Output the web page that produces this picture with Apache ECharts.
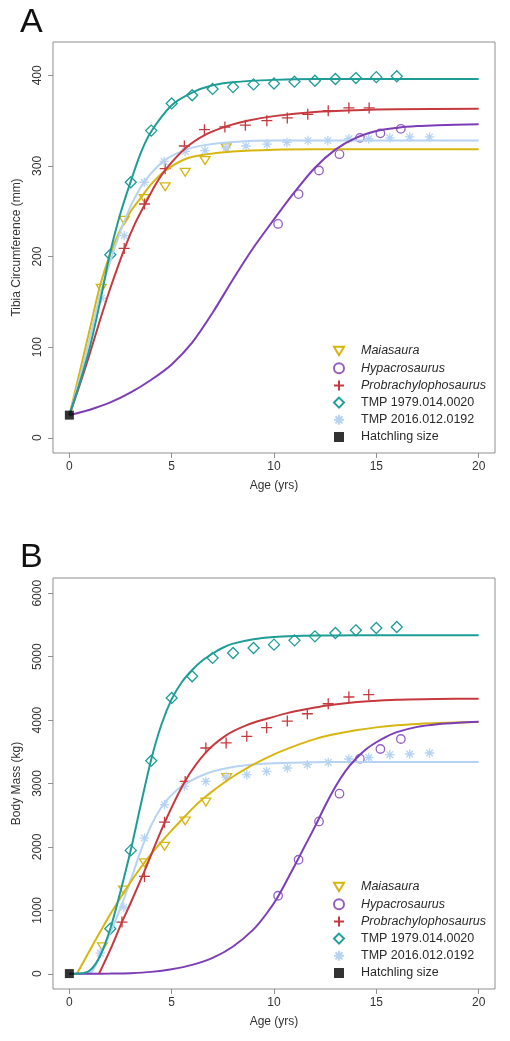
<!DOCTYPE html>
<html>
<head>
<meta charset="utf-8">
<script src="https://cdn.jsdelivr.net/npm/echarts@6/dist/echarts.min.js"></script>
<style>
html,body{margin:0;padding:0;background:#fff;}
#chart{width:510px;height:1041px;}
</style>
</head>
<body>
<div id="chart"></div>
<script>
// ---------- Tick labels ----------
const xTicks = [0, 5, 10, 15, 20];
const yTicksA = [0, 100, 200, 300, 400];
const yTicksB = [0, 1000, 2000, 3000, 4000, 5000, 6000];

// ---------- Panel A observations (Tibia circumference, mm) ----------
const maiaA_age = [1.56, 2.68, 3.66, 4.68, 5.66, 6.63, 7.66];
const maiaA_val = [165, 240, 264, 277, 293, 306, 320];
const hypaA_age = [10.2, 11.2, 12.2, 13.2, 14.2, 15.2, 16.2];
const hypaA_val = [236, 269, 295, 313, 331, 336, 341];
const probA_age = [2.68, 3.67, 4.68, 5.62, 6.6, 7.6, 8.6, 9.65, 10.65, 11.65, 12.65, 13.66, 14.65];
const probA_val = [209, 258, 297, 322, 340, 343, 345, 350, 353, 357, 361, 364, 364];
const t79A_age = [2, 3, 4, 5, 6, 7, 8, 9, 10, 11, 12, 13, 14, 15, 16];
const t79A_val = [202, 282, 339, 369, 378, 385, 387, 390, 391, 393, 394, 396, 397, 398, 399];
const t16A_age = [1.56, 2.68, 3.66, 4.63, 5.66, 6.63, 7.66, 8.63, 9.66, 10.63, 11.66, 12.63, 13.66, 14.63, 15.66, 16.63, 17.6];
const t16A_val = [154, 223, 282, 305, 316, 317, 320, 322, 324, 326, 328, 328, 330, 330, 331, 332, 332];
const hatchA = [0, 25];

// ---------- Panel A fitted curves ----------
const fitMaiaA_age = [0, 0.5, 1, 1.5, 2, 2.5, 3, 3.5, 4, 4.7, 5.7, 6.6, 8, 10, 12, 20];
const fitMaiaA_val = [25, 72, 120, 168, 203, 230, 250, 265, 280, 295, 308, 312.5, 316, 318, 318.5, 318.5];
const fitHypaA_age = [0, 1, 2, 3, 4, 5, 6, 7, 8, 9, 10, 11, 12, 13, 14, 15, 16, 17, 18, 20];
const fitHypaA_val = [25, 31, 39, 50, 64, 81, 105, 138, 175, 210, 241, 271, 298, 318, 331, 338.5, 342, 344, 345, 346];
const fitProbA_age = [0, 0.5, 1, 1.5, 2, 2.7, 3.2, 3.7, 4.2, 4.7, 5.7, 6.7, 7.7, 8.7, 10, 12, 14, 16, 20];
const fitProbA_val = [25, 58, 93, 130, 165, 209, 236, 258, 279, 296, 320, 335, 344, 350, 355, 359.5, 361.5, 362.5, 363];
const fitT79A_age = [0, 0.5, 1, 1.5, 2, 2.5, 3, 3.5, 4, 5, 6, 7, 8, 10, 12, 20];
const fitT79A_val = [25, 60, 100, 150, 205, 248, 283, 315, 338, 367, 381, 389, 392.5, 395, 396, 396];
const fitT16A_age = [0, 0.5, 1, 1.5, 2, 2.5, 3, 3.5, 4, 4.7, 5.7, 6.6, 8, 10, 20];
const fitT16A_val = [25, 65, 110, 158, 195, 228, 256, 277, 292, 307, 318, 323, 326.5, 328, 328];

// ---------- Panel B observations (Body mass, kg) ----------
const maiaB_age = [1.62, 2.65, 3.67, 4.65, 5.66, 6.67, 7.69];
const maiaB_val = [425, 1320, 1750, 2010, 2410, 2708, 3096];
const hypaB_age = [10.2, 11.2, 12.2, 13.2, 14.2, 15.2, 16.2];
const hypaB_val = [1230, 1798, 2402, 2839, 3391, 3544, 3702];
const probB_age = [2.57, 3.67, 4.65, 5.66, 6.67, 7.66, 8.67, 9.64, 10.65, 11.63, 12.65, 13.66, 14.63];
const probB_val = [815, 1535, 2390, 3033, 3560, 3639, 3743, 3880, 3985, 4100, 4257, 4364, 4401];
const t79B_age = [2, 3, 4, 5, 6, 7, 8, 9, 10, 11, 12, 13, 14, 15, 16];
const t79B_val = [710, 1945, 3360, 4349, 4690, 4980, 5058, 5137, 5189, 5257, 5320, 5373, 5415, 5452, 5468];
const t16B_age = [1.51, 2.66, 3.67, 4.65, 5.62, 6.67, 7.66, 8.67, 9.64, 10.65, 11.63, 12.65, 13.66, 14.63, 15.66, 16.63, 17.6];
const t16B_val = [326, 1050, 2140, 2666, 2954, 3033, 3102, 3139, 3191, 3244, 3297, 3333, 3386, 3410, 3454, 3465, 3481];
const hatchB = [0, 3];

// ---------- Panel B fitted curves ----------
const fitMaiaB_age = [0.37, 1, 1.5, 2, 2.5, 3, 3.5, 4, 4.5, 5, 5.5, 6, 6.5, 7, 7.5, 8, 9, 10, 11, 12, 13, 14, 15, 16, 17, 18, 20];
const fitMaiaB_val = [0, 370, 660, 940, 1200, 1450, 1680, 1890, 2080, 2260, 2430, 2600, 2750, 2880, 3000, 3110, 3300, 3460, 3590, 3700, 3780, 3840, 3885, 3918, 3940, 3955, 3968];
const fitHypaB_age = [0, 1, 2, 3, 4, 5, 6, 7, 8, 9, 9.64, 10.2, 11, 11.5, 12, 12.5, 13, 13.5, 14, 14.5, 15, 15.5, 16, 17, 18, 19, 20];
const fitHypaB_val = [0, 0.5, 3, 10, 30, 72, 140, 250, 430, 700, 950, 1220, 1700, 2010, 2320, 2650, 2950, 3200, 3390, 3540, 3650, 3740, 3810, 3893, 3935, 3958, 3972];
const fitProbB_age = [1.45, 2, 2.57, 3, 3.67, 4.65, 5.66, 6.67, 7.66, 8.67, 9.64, 10.65, 11.63, 12.6, 13.6, 14.6, 16, 18, 20];
const fitProbB_val = [0, 380, 815, 1120, 1620, 2380, 3040, 3490, 3760, 3920, 4020, 4110, 4175, 4230, 4270, 4297, 4322, 4334, 4338];
const fitT79B_age = [0, 0.5, 1, 1.5, 2, 2.5, 3, 3.5, 4, 4.5, 5, 5.5, 6, 6.5, 7, 7.5, 8, 9, 10, 11, 12, 14, 20];
const fitT79B_val = [0, 3, 50, 280, 710, 1300, 1950, 2680, 3380, 3930, 4330, 4600, 4790, 4940, 5050, 5140, 5205, 5275, 5310, 5326, 5333, 5336, 5336];
const fitT16B_age = [0, 1, 1.25, 1.5, 2, 2.5, 3, 3.5, 4, 4.5, 5, 5.5, 6, 6.5, 7, 8, 9, 10, 12, 14, 20];
const fitT16B_val = [0, 10, 110, 300, 650, 1040, 1480, 1950, 2340, 2630, 2820, 2960, 3055, 3130, 3190, 3260, 3300, 3320, 3335, 3340, 3340];

// ---------- Names & colours ----------
const names = ['Maiasaura', 'Hypacrosaurus', 'Probrachylophosaurus', 'TMP 1979.014.0020', 'TMP 2016.012.0192', 'Hatchling size'];
const italicNames = ['Maiasaura', 'Hypacrosaurus', 'Probrachylophosaurus'];
const colors = {
  Maiasaura: '#D7B610',
  Hypacrosaurus: '#7D3DB6',
  Probrachylophosaurus: '#C6393E',
  'TMP 1979.014.0020': '#1E9D97',
  'TMP 2016.012.0192': '#B6D3F3'
};
const markerColors = {
  Maiasaura: '#D7B610',
  Hypacrosaurus: '#9460C4',
  Probrachylophosaurus: '#C6393E',
  'TMP 1979.014.0020': '#1E9D97',
  'TMP 2016.012.0192': '#B6D3F3'
};

const FONT = '"Liberation Sans", Arial, Helvetica, sans-serif';
const zip = (a, b) => a.map((v, i) => [v, b[i]]);

const symbols = {
  Maiasaura: { symbol: 'path://M0,0L10,0L5,8.7Z', size: [10, 9] },
  Hypacrosaurus: { symbol: 'circle', size: 8.5 },
  Probrachylophosaurus: { symbol: 'path://M0,5H10M5,0V10', size: 11 },
  'TMP 1979.014.0020': { symbol: 'path://M5,0L10,5L5,10L0,5Z', size: [11, 11] },
  'TMP 2016.012.0192': { symbol: 'path://M0,5H10M5,0V10M1.5,1.5L8.5,8.5M8.5,1.5L1.5,8.5', size: 9.5 }
};

function scatter(name, idx, data) {
  const s = symbols[name];
  return {
    name: name, type: 'scatter', xAxisIndex: idx, yAxisIndex: idx,
    data: data, symbol: s.symbol, symbolSize: s.size, symbolKeepAspect: true,
    itemStyle: { color: 'rgba(0,0,0,0)', borderColor: markerColors[name], borderWidth: 1.3, opacity: 1 },
    emphasis: { disabled: true }, z: 2, silent: true
  };
}
function fit(name, idx, data) {
  return {
    name: name + ' fit', type: 'line', xAxisIndex: idx, yAxisIndex: idx,
    data: data, smooth: 0.3, showSymbol: false, symbol: 'none',
    lineStyle: { color: colors[name], width: 2 }, z: 3, silent: true
  };
}
function hatch(idx, pt) {
  return {
    name: 'Hatchling size', type: 'scatter', xAxisIndex: idx, yAxisIndex: idx,
    data: [pt], symbol: 'rect', symbolSize: 9, symbolKeepAspect: true,
    itemStyle: { color: '#000', borderColor: '#000', borderWidth: 0 }, z: 5, silent: true
  };
}

const series = [
  fit('Maiasaura', 0, zip(fitMaiaA_age, fitMaiaA_val)),
  fit('TMP 2016.012.0192', 0, zip(fitT16A_age, fitT16A_val)),
  fit('Hypacrosaurus', 0, zip(fitHypaA_age, fitHypaA_val)),
  fit('Probrachylophosaurus', 0, zip(fitProbA_age, fitProbA_val)),
  fit('TMP 1979.014.0020', 0, zip(fitT79A_age, fitT79A_val)),
  scatter('Maiasaura', 0, zip(maiaA_age, maiaA_val)),
  scatter('Hypacrosaurus', 0, zip(hypaA_age, hypaA_val)),
  scatter('Probrachylophosaurus', 0, zip(probA_age, probA_val)),
  scatter('TMP 1979.014.0020', 0, zip(t79A_age, t79A_val)),
  scatter('TMP 2016.012.0192', 0, zip(t16A_age, t16A_val)),
  hatch(0, hatchA),

  fit('TMP 2016.012.0192', 1, zip(fitT16B_age, fitT16B_val)),
  fit('Maiasaura', 1, zip(fitMaiaB_age, fitMaiaB_val)),
  fit('Hypacrosaurus', 1, zip(fitHypaB_age, fitHypaB_val)),
  fit('Probrachylophosaurus', 1, zip(fitProbB_age, fitProbB_val)),
  fit('TMP 1979.014.0020', 1, zip(fitT79B_age, fitT79B_val)),
  scatter('Maiasaura', 1, zip(maiaB_age, maiaB_val)),
  scatter('Hypacrosaurus', 1, zip(hypaB_age, hypaB_val)),
  scatter('Probrachylophosaurus', 1, zip(probB_age, probB_val)),
  scatter('TMP 1979.014.0020', 1, zip(t79B_age, t79B_val)),
  scatter('TMP 2016.012.0192', 1, zip(t16B_age, t16B_val)),
  hatch(1, hatchB)
];

const axisGray = '#8f8f8f';
function xAxis(idx) {
  return {
    type: 'value', gridIndex: idx, min: -0.8, max: 20.8,
    name: 'Age (yrs)', nameLocation: 'middle', nameGap: 27,
    nameTextStyle: { fontFamily: FONT, fontSize: 12, color: '#333' },
    axisLine: { show: false, onZero: false },
    axisTick: { show: true, customValues: xTicks, length: 5, lineStyle: { color: axisGray } },
    axisLabel: { customValues: xTicks, formatter: v => String(v), fontFamily: FONT, fontSize: 12, color: '#333', margin: 8 },
    splitLine: { show: false }
  };
}
function yAxis(idx, ticks, min, max, name) {
  return {
    type: 'value', gridIndex: idx, min: min, max: max,
    name: name, nameLocation: 'middle', nameGap: 30, nameRotate: 90,
    nameTextStyle: { fontFamily: FONT, fontSize: 12, color: '#333' },
    axisLine: { show: false, onZero: false },
    axisTick: { show: true, customValues: ticks, length: 5, lineStyle: { color: axisGray } },
    axisLabel: { customValues: ticks, formatter: v => String(v), rotate: 90, fontFamily: FONT, fontSize: 12, color: '#333', margin: 9 },
    splitLine: { show: false }
  };
}
function legend(top) {
  return {
    orient: 'vertical', left: 328, top: top,
    data: names.map(n => ({ name: n })),
    itemWidth: 10, itemHeight: 10, itemGap: 3.2,
    selectedMode: false,
    formatter: n => italicNames.includes(n) ? '{i|' + n + '}' : '{n|' + n + '}',
    textStyle: {
      fontFamily: FONT, fontSize: 12.5, color: '#2a2a2a', lineHeight: 14,
      rich: {
        i: { fontFamily: FONT, fontSize: 12.5, fontStyle: 'italic', color: '#2a2a2a', lineHeight: 14, padding: [0, 0, 0, 12] },
        n: { fontFamily: FONT, fontSize: 12.5, color: '#2a2a2a', lineHeight: 14, padding: [0, 0, 0, 12] }
      }
    }
  };
}

const chart = echarts.init(document.getElementById('chart'), null, { renderer: 'canvas' });
chart.setOption({
  animation: false,
  backgroundColor: '#fff',
  title: [
    { text: 'A', left: 15, top: 1, textStyle: { fontFamily: FONT, fontSize: 34, fontWeight: 'normal', color: '#111' } },
    { text: 'B', left: 15, top: 536, textStyle: { fontFamily: FONT, fontSize: 34, fontWeight: 'normal', color: '#111' } }
  ],
  grid: [
    { left: 53, right: 15, top: 42, height: 411, show: true, borderColor: axisGray, borderWidth: 1, backgroundColor: 'transparent' },
    { left: 53, right: 15, top: 578, height: 411, show: true, borderColor: axisGray, borderWidth: 1, backgroundColor: 'transparent' }
  ],
  xAxis: [xAxis(0), xAxis(1)],
  yAxis: [
    yAxis(0, yTicksA, -16.8, 436.8, 'Tibia Circumference (mm)'),
    yAxis(1, yTicksB, -240, 6240, 'Body Mass (kg)')
  ],
  legend: [legend(339), legend(875)],
  series: series
});
</script>
</body>
</html>
